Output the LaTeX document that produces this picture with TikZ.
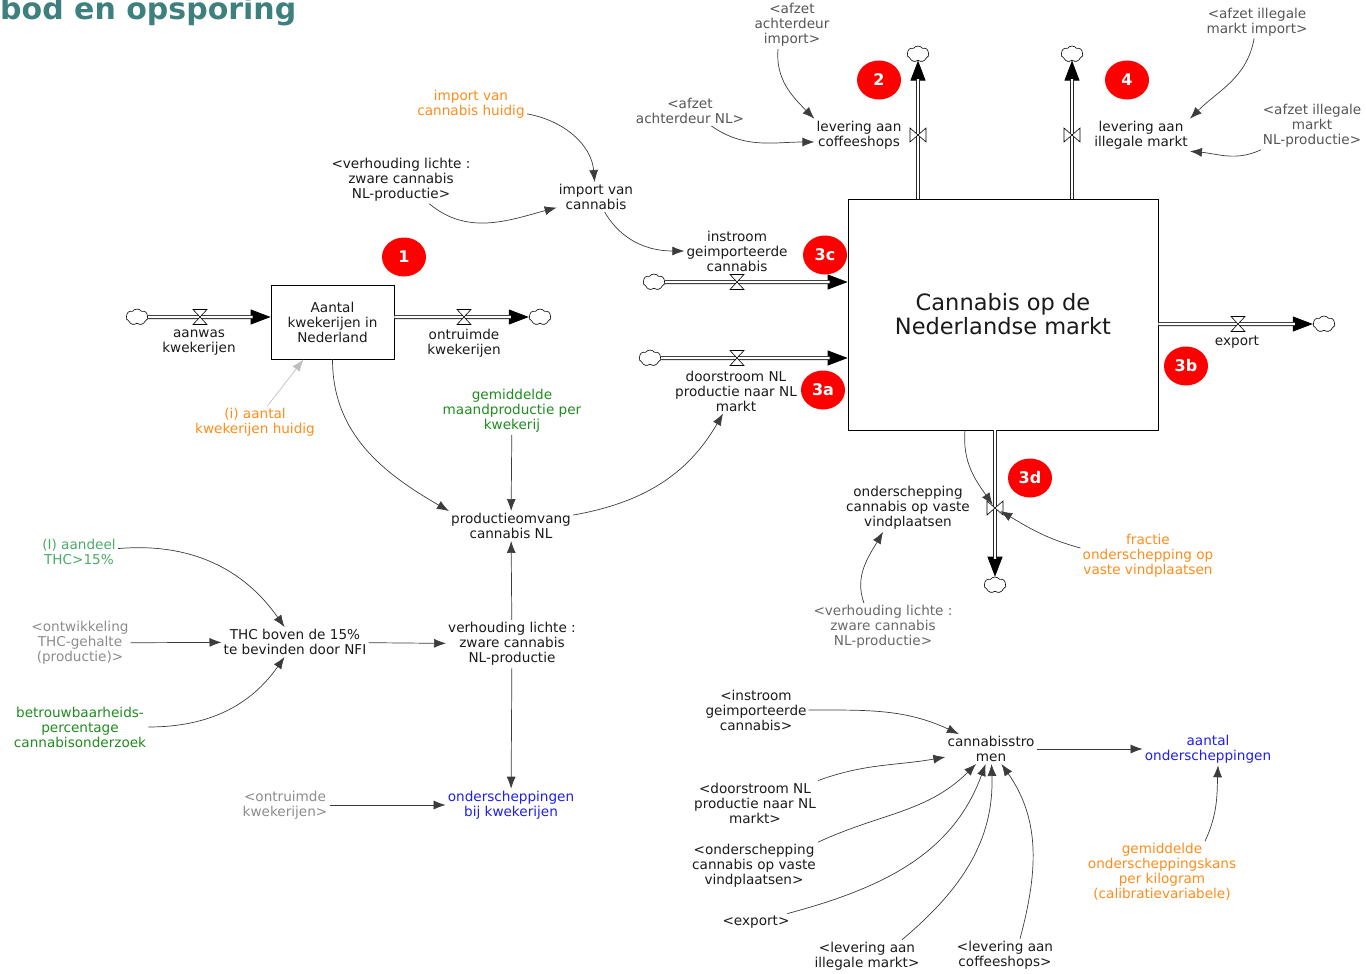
\documentclass[tikz,border=0pt]{standalone}
\usepackage{fontspec}
\setmainfont{DejaVu Sans}
\usetikzlibrary{arrows.meta,shapes.geometric,shapes.symbols}

\definecolor{vTeal}{RGB}{62,128,126}
\definecolor{vOrange}{RGB}{255,140,26}
\definecolor{vGreen}{RGB}{30,140,30}
\definecolor{vLightGreen}{RGB}{75,170,105}
\definecolor{vBlue}{RGB}{30,30,240}
\definecolor{vShadow}{RGB}{85,85,85}
\definecolor{vGrey}{RGB}{105,105,105}
\definecolor{vPale}{RGB}{140,140,140}
\definecolor{vLink}{RGB}{60,60,60}
\definecolor{vText}{RGB}{26,26,26}

% a flow: arrow line underneath, double pipe on top
\newcommand\flowpipe[2]{%
  \draw[pipetip] #1 -- #2;
  \draw[pipe] #1 -- #2;}

\begin{document}
\begin{tikzpicture}[x=1pt,y=1pt,
    every node/.append style={font=\fontsize{13.6}{15}\selectfont, align=center, inner sep=2pt, text=vText},
    stock/.style={draw, line width=0.8pt},
    cloudy/.style={cloud, cloud puffs=7, cloud puff arc=110, aspect=1.4, draw, line width=0.6pt,
        minimum width=22pt, minimum height=16pt, inner sep=0pt},
    pipe/.style={draw=black!85, line width=0.8pt, double=white, double distance=2.4pt, shorten >=18pt},
    pipetip/.style={draw=black, line width=0.8pt, -{Triangle[length=20pt,width=15pt]}},
    valveh/.pic={\draw[line width=0.6pt, fill=white] (-7pt,7.5pt) -- (7pt,7.5pt) -- (-7pt,-7.5pt) -- (7pt,-7.5pt) -- cycle;},
    valvev/.pic={\draw[line width=0.6pt, fill=white] (-8pt,7pt) -- (-8pt,-7pt) -- (8pt,7pt) -- (8pt,-7pt) -- cycle;},
    badge/.style={ellipse, fill=red, text=white, minimum width=44pt, minimum height=39pt, inner sep=0pt,
        font=\fontsize{16}{18}\selectfont\bfseries},
    link/.style={draw=vLink, line width=0.7pt, -{Latex[length=12pt,width=9pt]}},
    linkpale/.style={link, draw=black!25}]
\useasboundingbox (0,-974) rectangle (1366,0);

\node[anchor=base west, text=vTeal, font=\fontsize{30}{33}\selectfont\bfseries] (title) at (-2,-20) {bod en opsporing};

% stocks
\node[stock, minimum width=123pt, minimum height=74pt] (kwek) at (332.5,-322) {Aantal\\kwekerijen in\\Nederland};
\node[stock, minimum width=310pt, minimum height=231pt, font=\fontsize{22.5}{24}\selectfont] (market) at (1003,-314.5) {Cannabis op de\\Nederlandse markt};

% clouds
\node[cloudy] (cAanwas) at (137,-317) {};
\node[cloudy] (cOntruim) at (540,-317) {};
\node[cloudy] (cInstroom) at (654,-282) {};
\node[cloudy] (cDoor) at (650,-358) {};
\node[cloudy] (cExport) at (1324,-324) {};
\node[cloudy] (cCof) at (918,-54) {};
\node[cloudy] (cIll) at (1072,-54) {};
\node[cloudy] (cOnder) at (995,-585) {};

% flows
\flowpipe{(cAanwas)}{(cAanwas -| kwek.west)}
\flowpipe{(kwek.east |- cOntruim)}{(cOntruim)}
\flowpipe{(cInstroom)}{(cInstroom -| market.west)}
\flowpipe{(cDoor)}{(cDoor -| market.west)}
\flowpipe{(market.east |- cExport)}{(cExport)}
\flowpipe{(market.north -| cCof)}{(cCof)}
\flowpipe{(market.north -| cIll)}{(cIll)}
\flowpipe{(market.south -| cOnder)}{(cOnder)}

\path (200,-317) coordinate (vAanwas) pic {valveh};
\path (464,-317) coordinate (vOntruim) pic {valveh};
\path (737,-282) coordinate (vInstroom) pic {valveh};
\path (737,-358) coordinate (vDoor) pic {valveh};
\path (1238,-324) coordinate (vExport) pic {valveh};
\path (918,-135) coordinate (vCof) pic {valvev};
\path (1072,-135) coordinate (vIll) pic {valvev};
\path (995,-508) coordinate (vOnder) pic {valvev};

\node (lAanwas) at (199,-343) {aanwas\\kwekerijen};
\node (lOntruim) at (464,-343) {ontruimde\\kwekerijen};
\node (lInstroom) at (737,-251) {instroom\\geimporteerde\\cannabis};
\node (lDoor) at (736,-391) {doorstroom NL\\productie naar NL\\markt};
\node (lExport) at (1237,-342) {export};
\node (lCof) at (859,-135) {levering aan\\coffeeshops};
\node (lIll) at (1141,-135) {levering aan\\illegale markt};
\node (lOnder) at (908,-508) {onderschepping\\cannabis op vaste\\vindplaatsen};

% markers
\node[badge] (b1) at (404,-257) {1};
\node[badge] (b2) at (879,-80) {2};
\node[badge] (b4) at (1127,-80) {4};
\node[badge] (b3c) at (825,-255) {3c};
\node[badge] (b3a) at (823,-390) {3a};
\node[badge] (b3b) at (1186,-366) {3b};
\node[badge] (b3d) at (1030,-478) {3d};

% variables
\node[text=vOrange] (impH) at (471,-104) {import van\\cannabis huidig};
\node (verhTop) at (401,-180) {<verhouding lichte :\\zware cannabis\\NL-productie>};
\node (impC) at (596,-197) {import van\\cannabis};
\node[text=vShadow] (afzetImp) at (792,-25) {<afzet\\achterdeur\\import>};
\node[text=vShadow] (afzetNL) at (690,-111) {<afzet\\achterdeur NL>};
\node[text=vShadow] (afzIllImp) at (1257,-22) {<afzet illegale\\markt import>};
\node[text=vShadow] (afzIllNL) at (1312,-126) {<afzet illegale\\markt\\NL-productie>};
\node[text=vOrange] (aantH) at (255,-422) {(i) aantal\\kwekerijen huidig};
\node[text=vGreen] (maandProd) at (512,-411) {gemiddelde\\maandproductie per\\kwekerij};
\node (prodNL) at (511,-526) {productieomvang\\cannabis NL};
\node[text=vLightGreen] (aandeel) at (79,-552) {(I) aandeel\\THC>15\%};
\node[text=vPale] (ontw) at (80,-643) {<ontwikkeling\\THC-gehalte\\(productie)>};
\node (thc) at (295,-642) {THC boven de 15\%\\te bevinden door NFI};
\node[text=vGreen] (betr) at (80,-727) {betrouwbaarheids-\\percentage\\cannabisonderzoek};
\node (verh) at (512,-644) {verhouding lichte :\\zware cannabis\\NL-productie};
\node[text=vPale] (ontrK) at (285,-805) {<ontruimde\\kwekerijen>};
\node[text=vBlue] (onderKwek) at (511,-805) {onderscheppingen\\bij kwekerijen};
\node[text=vOrange] (fractie) at (1148,-556) {fractie\\onderschepping op\\vaste vindplaatsen};
\node[text=vGrey] (verhBot) at (883,-627) {<verhouding lichte :\\zware cannabis\\NL-productie>};
\node (instrS) at (756,-710) {<instroom\\geimporteerde\\cannabis>};
\node (cs) at (991,-749) {cannabisstro\\men};
\node[text=vBlue] (aantalO) at (1208,-749) {aantal\\onderscheppingen};
\node (doorS) at (755,-803) {<doorstroom NL\\productie naar NL\\markt>};
\node (onderS) at (754,-866) {<onderschepping\\cannabis op vaste\\vindplaatsen>};
\node (exportS) at (756,-922) {<export>};
\node (levIllS) at (867,-956) {<levering aan\\illegale markt>};
\node (levCofS) at (1005,-955) {<levering aan\\coffeeshops>};
\node[text=vOrange] (onderKans) at (1162,-872) {gemiddelde\\onderscheppingskans\\per kilogram\\(calibratievariabele)};

% connectors
\draw[link] (impH) to[out=-10,in=95] (impC);
\draw[link] (verhTop) to[out=-40,in=195] (impC);
\draw[link] (impC) to[out=-60,in=180] (lInstroom);
\draw[link] ([xshift=-14pt]afzetImp.south) to[out=-95,in=135] (lCof.north west);
\draw[link] (afzetNL) to[out=-35,in=180] ([yshift=-7pt]lCof.west);
\draw[link] (afzIllImp) to[out=-100,in=45] (lIll.north east);
\draw[link] (afzIllNL) to[out=-155,in=-5] (lIll.south east);
\draw[linkpale] (aantH) -- (kwek);
\draw[link] (kwek) to[out=-90,in=150] (prodNL.north west);
\draw[link] (maandProd) -- (prodNL);
\draw[link] (prodNL) to[out=10,in=-120] (lDoor);
\draw[link] (verh) -- (prodNL);
\draw[link] (thc) -- (verh);
\draw[link] (aandeel) to[out=5,in=125] (thc);
\draw[link] (ontw) -- (thc);
\draw[link] (betr) to[out=0,in=-125] (thc);
\draw[link] (verh) -- (onderKwek);
\draw[link] (ontrK) -- (onderKwek);
\draw[link, shorten >=4pt] ([xshift=-38pt]market.south) to[out=-95,in=125] (vOnder);
\draw[link, shorten >=6pt] ([yshift=8pt]fractie.west) to[out=165,in=-30] (vOnder);
\draw[link] ([xshift=-19pt]verhBot.north) to[out=110,in=-120] ([xshift=-25pt]lOnder.south);
\draw[link] (instrS) to[out=0,in=155] (cs);
\draw[link] (doorS.north east) to[out=20,in=190] (cs);
\draw[link] (onderS.north east) to[out=25,in=-135] (cs);
\draw[link] (exportS) to[out=15,in=-110] (cs);
\draw[link] ([xshift=35pt]levIllS.north) to[out=40,in=-88] (cs);
\draw[link] ([xshift=15pt]levCofS.north) to[out=75,in=-55] (cs);
\draw[link] (cs) -- (aantalO);
\draw[link] ([xshift=43pt]onderKans.north) to[out=65,in=-92] ([xshift=10pt]aantalO.south);
\end{tikzpicture}
\end{document}
